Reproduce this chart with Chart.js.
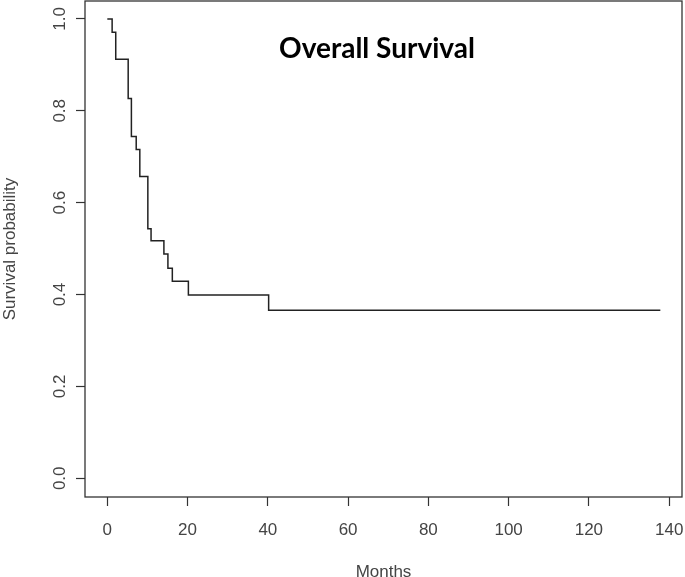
<!DOCTYPE html>
<html>
<head>
<meta charset="utf-8">
<script src="https://cdn.jsdelivr.net/npm/chart.js@4/dist/chart.umd.min.js"></script>
<style>
  html, body { margin: 0; padding: 0; background: #fff; }
  canvas { display: block; }
</style>
</head>
<body>
<canvas id="kmChart" width="685" height="577"></canvas>
<script>
// Kaplan-Meier step data
const months = [0, 1.2, 2.1, 5.2, 6.0, 7.2, 8.1, 10.1, 10.9, 14.1, 15.1, 16.2, 20.2, 40.2, 137.8];
const survival = [1.0, 0.971, 0.912, 0.827, 0.744, 0.716, 0.657, 0.543, 0.517, 0.488, 0.457, 0.429, 0.399, 0.366, 0.366];

const xTicks = [0, 20, 40, 60, 80, 100, 120, 140];
const yTicks = [0.0, 0.2, 0.4, 0.6, 0.8, 1.0];

const chartTitle = 'Overall Survival';
const xLabel = 'Months';
const yLabel = 'Survival probability';

const textColor = '#444';
const lineColor = '#222';
const axisFont = { family: 'Liberation Sans, Arial, sans-serif', size: 17 };

const points = months.map((m, i) => ({ x: m, y: survival[i] }));

// box around the plot area + title inside it
const boxAndTitle = {
    id: 'boxAndTitle',
    afterDraw(chart) {
        const { ctx, chartArea, scales } = chart;
        ctx.save();
        ctx.strokeStyle = '#333';
        ctx.lineWidth = 1.3;
        ctx.strokeRect(chartArea.left, chartArea.top, chartArea.right - chartArea.left, chartArea.bottom - chartArea.top);

        ctx.fillStyle = '#000';
        ctx.font = 'bold 28px Lato, "Open Sans", sans-serif';
        ctx.textAlign = 'center';
        ctx.textBaseline = 'alphabetic';
        ctx.fillText(chartTitle, scales.x.getPixelForValue(67.2), scales.y.getPixelForValue(0.915));
        ctx.restore();
    }
};

const ctx = document.getElementById('kmChart').getContext('2d');
new Chart(ctx, {
    type: 'line',
    data: {
        datasets: [{
            data: points,
            stepped: 'before',
            borderColor: lineColor,
            borderWidth: 1.5,
            pointRadius: 0,
            fill: false
        }]
    },
    options: {
        responsive: false,
        animation: false,
        layout: { padding: { top: 1, right: 3, left: 0, bottom: 0 } },
        plugins: {
            legend: { display: false },
            tooltip: { enabled: false }
        },
        scales: {
            x: {
                type: 'linear',
                min: -5.56,
                max: 143.2,
                afterBuildTicks: (scale) => { scale.ticks = xTicks.map(v => ({ value: v })); },
                afterFit: (scale) => {
                    scale.height = 80;
                    scale.paddingLeft = 0;
                    scale.paddingRight = 0;
                },
                border: { display: false },
                grid: { drawOnChartArea: false, drawTicks: true, tickLength: 9, tickColor: '#333', tickWidth: 1.2 },
                ticks: { color: textColor, font: axisFont, padding: 14, maxRotation: 0, autoSkip: false },
                title: { display: true, text: xLabel, color: textColor, font: axisFont, padding: { top: 0, bottom: -6 } }
            },
            y: {
                min: -0.0407,
                max: 1.039,
                afterBuildTicks: (scale) => { scale.ticks = yTicks.map(v => ({ value: v })); },
                afterFit: (scale) => {
                    scale.width = 85;
                    scale.paddingTop = 0;
                    scale.paddingBottom = 0;
                },
                border: { display: false },
                grid: { drawOnChartArea: false, drawTicks: true, tickLength: 9, tickColor: '#333', tickWidth: 1.2 },
                ticks: {
                    color: textColor, font: axisFont, padding: 4,
                    minRotation: 90, maxRotation: 90, crossAlign: 'center',
                    callback: (v) => v.toFixed(1)
                },
                title: { display: true, text: yLabel, color: textColor, font: axisFont, padding: { top: 0, bottom: 0 } }
            }
        }
    },
    plugins: [boxAndTitle]
});
</script>
</body>
</html>
